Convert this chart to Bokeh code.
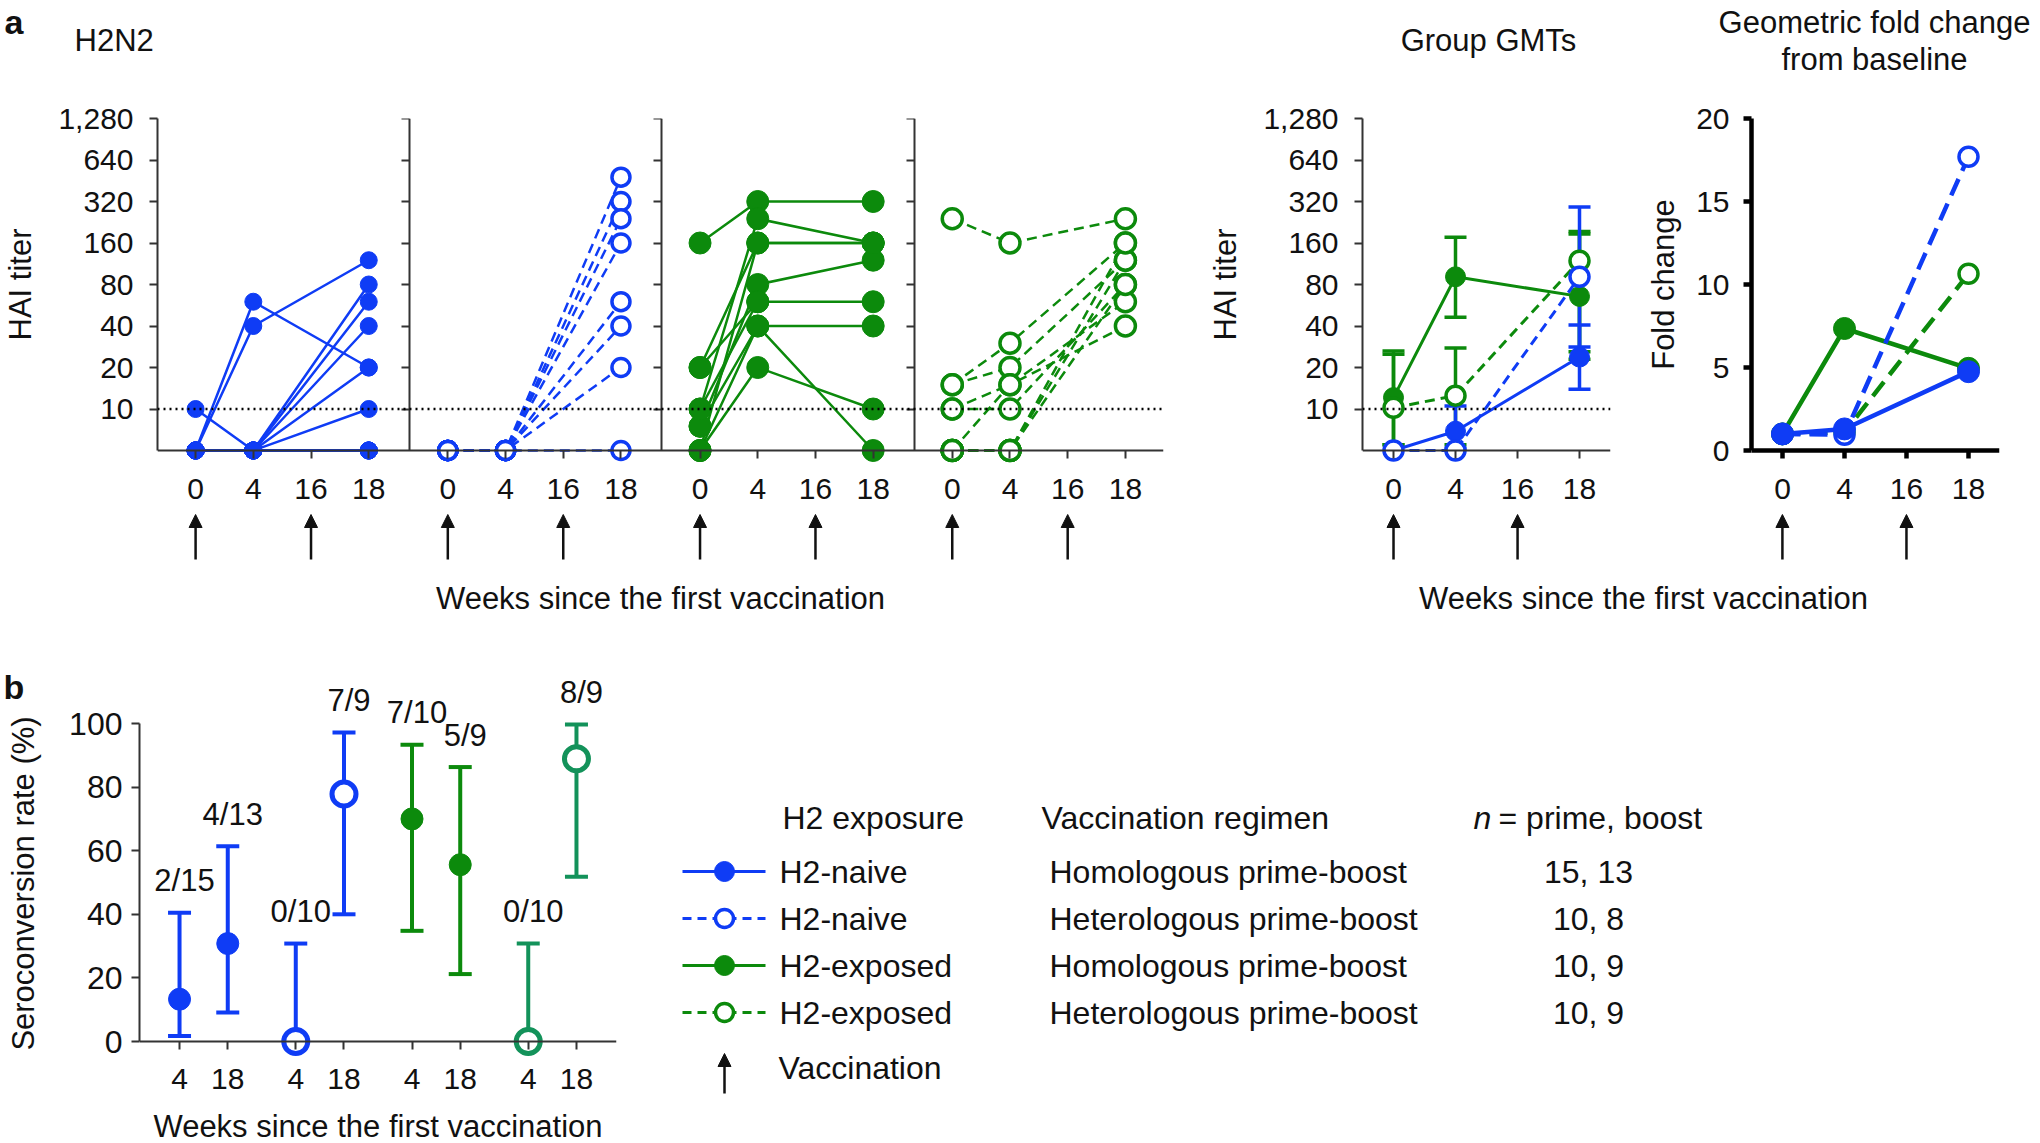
import math
from bokeh.plotting import figure
from bokeh.layouts import row, column
from bokeh.models import (Range1d, LogAxis, LinearAxis, FixedTicker, Span, Arrow,
                          NormalHead, Whisker, TeeHead, ColumnDataSource, NumeralTickFormatter)
from bokeh.core.properties import value
from bokeh.embed import file_html
from bokeh.resources import INLINE

# ======================= data =======================
weeks = [0, 4, 16, 18]
sampled_weeks = [0, 4, 18]
vaccination_weeks = [0, 16]
hai_ticks = [10, 20, 40, 80, 160, 320, 640, 1280]
hai_floor = 5          # titres < 10 drawn on the axis floor
hai_threshold = 10     # dotted line

# panel a: individual HAI titres at weeks 0 / 4 / 18 (None = no sample)
naive_homo_w0 = [5, 5, 10, 5, 5, 5, 5, 5, 5, 5, 5, 5, 5, 5, 5]
naive_homo_w4 = [60, 40, 5, 5, 5, 5, 5, 5, 5, 5, 5, 5, 5, 5, 5]
naive_homo_w18 = [20, 120, 80, 60, 40, 20, 10, 5, 5, 5, 5, 5, 5, None, None]

naive_het_w0 = [5, 5, 5, 5, 5, 5, 5, 5, 5, 5]
naive_het_w4 = [5, 5, 5, 5, 5, 5, 5, 5, 5, 5]
naive_het_w18 = [480, 320, 240, 160, 60, 40, 20, 5, None, None]

exp_homo_w0 = [160, 20, 20, 10, 7.5, 7.5, 5, 5, 5, 10]
exp_homo_w4 = [320, 160, 60, 240, 80, 40, 40, 20, 160, 60]
exp_homo_w18 = [320, 160, 60, 160, 120, 40, 5, 10, 160, None]

exp_het_w0 = [240, 15, 15, 10, 10, 5, 5, 5, 5, 5]
exp_het_w4 = [160, 30, 20, 10, 15, 5, 5, 15, 5, 5]
exp_het_w18 = [240, 160, 120, 80, 60, 120, 80, 40, 160, None]

# group GMTs (weeks 0 / 4 / 18) with 95% CI
gmt_exp_homo = [12.1, 91, 65.6]
gmt_exp_homo_lo = [5.5, 46.3, 23]
gmt_exp_homo_hi = [26.4, 176, 186]
gmt_exp_het = [10.2, 12.5, 119]
gmt_exp_het_lo = [5.5, 5.5, 26]
gmt_exp_het_hi = [25, 27.7, 194]
gmt_naive_homo = [5, 6.9, 23.8]
gmt_naive_homo_lo = [5, 5.2, 13.9]
gmt_naive_homo_hi = [5, 10.5, 40.6]
gmt_naive_het = [5, 5, 91]
gmt_naive_het_lo = [5, 5, 28.2]
gmt_naive_het_hi = [5, 5, 292]

# geometric fold change from baseline (weeks 0 / 4 / 18)
fold_ticks = [0, 5, 10, 15, 20]
fold_exp_het = [1.0, 1.1, 10.65]
fold_exp_homo = [1.0, 7.35, 4.95]
fold_naive_het = [1.0, 0.95, 17.7]
fold_naive_homo = [1.0, 1.3, 4.75]

# panel b: seroconversion rate (%) with 95% CI
pair_weeks = [4, 18]
sero_group = [0, 0, 1, 1, 2, 2, 3, 3]
sero_week = [4, 18, 4, 18, 4, 18, 4, 18]
sero_rate = [13.3, 30.8, 0.0, 77.8, 70.0, 55.6, 0.0, 88.9]
sero_lo = [1.7, 9.1, 0.0, 40.0, 34.8, 21.2, 0.0, 51.8]
sero_hi = [40.5, 61.4, 30.8, 97.2, 93.3, 86.3, 30.8, 99.7]
sero_text = ["2/15", "4/13", "0/10", "7/9", "7/10", "5/9", "0/10", "8/9"]
sero_ticks = [0, 20, 40, 60, 80, 100]

# legend table
legend_exposure = ["H2-naive", "H2-naive", "H2-exposed", "H2-exposed"]
legend_regimen = ["Homologous prime-boost", "Heterologous prime-boost",
                  "Homologous prime-boost", "Heterologous prime-boost"]
legend_n = ["15, 13", "10, 8", "10, 9", "10, 9"]

# ======================= style =======================
FONT = "Liberation Sans"
TXT = "#111111"
AXC = "#333333"
BLUE = "#0f3cf5"
GREEN = "#0c8a0c"
GREEN_B = "#13925a"
DASH = "10 6"
DOT = "2 4"
STEP = 100

# ======================= geometry (page px) =======================
T_H = 90                       # title strip
R1_TOP, R1_BOT = 90, 512       # row of plots
FR_TOP, FLOOR_Y, EXT = 118, 450, 12
FR_BOT = FLOOR_Y + EXT
PXD = (FLOOR_Y - FR_TOP) / 8.0
R1_H = R1_BOT - R1_TOP
BT1, BB1 = FR_TOP - R1_TOP, R1_BOT - FR_BOT
S_TOP, S_BOT = 512, 650        # arrows / axis-title strip
R2_TOP, R2_BOT = 650, 1143
R2_FR_TOP = 660
y_min = hai_floor * 2 ** (-EXT / PXD)
XLAB_STANDOFF = 16


def make_fig(width, height, xr, yr, left=0, right=0, top=0, bottom=0, log=False):
    p = figure(width=width, height=height, x_range=xr, y_range=yr, title=None,
               y_axis_type="log" if log else "linear",
               x_axis_location=None, y_axis_location=None,
               min_border_left=left, min_border_right=right,
               min_border_top=top, min_border_bottom=bottom,
               output_backend="svg", toolbar_location=None)
    p.outline_line_color = None
    p.xgrid.grid_line_color = None
    p.ygrid.grid_line_color = None
    p.background_fill_color = "white"
    p.border_fill_color = "white"
    return p


def style_axis(ax, width=2, color=AXC, tick_out=8, tick_in=0, standoff=16, size="30px"):
    ax.axis_line_color = color
    ax.axis_line_width = width
    ax.major_tick_line_color = color
    ax.major_tick_line_width = width
    ax.major_tick_out = tick_out
    ax.major_tick_in = tick_in
    ax.minor_tick_line_color = None
    ax.major_label_text_font = FONT
    ax.major_label_text_font_size = size
    ax.major_label_text_color = TXT
    ax.major_label_standoff = standoff


def rule_axis(ax, ticks, width=2, color=AXC):
    """axis line + inward ticks only"""
    style_axis(ax, width=width, color=color, tick_out=0, tick_in=8, standoff=0, size="1px")
    ax.major_label_overrides = {t: "" for t in ticks}


def label_axis(ax, standoff):
    """tick labels only"""
    style_axis(ax, tick_out=0, standoff=standoff)
    ax.axis_line_color = None
    ax.major_tick_line_color = None


def txt(p, x, y, texts, size="31px", align="center", baseline="middle", angle=0,
        style="normal"):
    p.text(x=x, y=y, text=texts, text_font=value(FONT), text_font_size=size,
           text_align=align, text_baseline=baseline, angle=angle,
           text_font_style=style, text_color=TXT)


def dots(p, xs, ys, color, filled, size_f, size_o, lw_o=3.5):
    if filled:
        p.scatter(xs, ys, size=size_f, fill_color=color, line_color=color, line_width=1)
    else:
        p.scatter(xs, ys, size=size_o, fill_color="white", line_color=color, line_width=lw_o)


def arrows(p, xs, tip, tail, head=13, lw=2.5):
    src = ColumnDataSource(dict(x=xs, y0=[tail] * len(xs), y1=[tip] * len(xs)))
    p.add_layout(Arrow(source=src, x_start="x", y_start="y0", x_end="x", y_end="y1",
                       line_color=TXT, line_width=lw,
                       end=NormalHead(size=head, fill_color=TXT, line_color=TXT, line_width=1)))


def whiskers(p, xs, lo, hi, color, lw=3.5, cap=22):
    keep = [i for i in range(len(xs)) if hi[i] > lo[i]]
    src = ColumnDataSource(dict(x=[xs[i] for i in keep], lo=[lo[i] for i in keep],
                                hi=[hi[i] for i in keep]))
    p.add_layout(Whisker(source=src, base="x", lower="lo", upper="hi", line_color=color,
                         line_width=lw,
                         upper_head=TeeHead(size=cap, line_color=color, line_width=lw),
                         lower_head=TeeHead(size=cap, line_color=color, line_width=lw),
                         level="underlay"))


def hai_yaxis(p):
    ax = LogAxis(ticker=FixedTicker(ticks=hai_ticks), formatter=NumeralTickFormatter(format="0,0"),
                 bounds=(hai_floor, hai_ticks[-1]))
    style_axis(ax)
    p.add_layout(ax, "left")


# ======================= title strip =======================
pT = make_fig(2040, T_H, Range1d(0, 2040), Range1d(T_H, 0))
txt(pT, [4], [21], ["a"], size="34px", align="left", style="bold")
txt(pT, [74], [40], ["H2N2"], align="left")
txt(pT, [1488], [40], ["Group GMTs"])
txt(pT, [1874, 1874], [22, 59], ["Geometric fold change", "from baseline"])

# ======================= panel a =======================
A_X0, A_W, A_LEFT, A_RIGHT = 40, 1134, 117, 11
A_SUB, A_PAD = 437, 66
xr_a = Range1d(-A_PAD, 3 * A_SUB + 3 * STEP + A_PAD)


def a_pos(k, week):
    return k * A_SUB + weeks.index(week) * STEP


pL1 = make_fig(A_X0, R1_H, Range1d(0, A_X0), Range1d(FR_BOT, FR_TOP), top=BT1, bottom=BB1)
txt(pL1, [20], [284], ["HAI titer"], angle=math.pi / 2)

pA = make_fig(A_W, R1_H, xr_a, Range1d(y_min, hai_ticks[-1]), A_LEFT, A_RIGHT, BT1, BB1, log=True)
hai_yaxis(pA)
for k in range(1, 4):
    ax = LogAxis(ticker=FixedTicker(ticks=hai_ticks), bounds=(hai_floor, hai_ticks[-1]),
                 fixed_location=k * A_SUB - A_PAD)
    style_axis(ax, tick_out=0, tick_in=8, standoff=0, size="1px")
    ax.major_label_overrides = {t: "" for t in hai_ticks}
    pA.add_layout(ax, "right")

a_ticks = [a_pos(k, w) for k in range(4) for w in weeks]
xa_lab = LinearAxis(ticker=FixedTicker(ticks=a_ticks),
                    major_label_overrides={a_pos(k, w): str(w) for k in range(4) for w in weeks})
label_axis(xa_lab, XLAB_STANDOFF)
pA.add_layout(xa_lab, "below")
xa_rule = LinearAxis(ticker=FixedTicker(ticks=a_ticks), fixed_location=hai_floor)
rule_axis(xa_rule, a_ticks)
pA.add_layout(xa_rule, "above")

pA.add_layout(Span(location=hai_threshold, dimension="width", line_color="black",
                   line_width=2.5, line_dash=DOT))

panel_a = [
    (naive_homo_w0, naive_homo_w4, naive_homo_w18, BLUE, True, 17, 18),
    (naive_het_w0, naive_het_w4, naive_het_w18, BLUE, False, 17, 18),
    (exp_homo_w0, exp_homo_w4, exp_homo_w18, GREEN, True, 22, 20),
    (exp_het_w0, exp_het_w4, exp_het_w18, GREEN, False, 22, 20),
]
for k, (w0, w4, w18, color, filled, sf, so) in enumerate(panel_a):
    xs, ys, px, py = [], [], [], []
    for subj in zip(w0, w4, w18):
        lx = [a_pos(k, w) for w, v in zip(sampled_weeks, subj) if v is not None]
        ly = [v for v in subj if v is not None]
        xs.append(lx)
        ys.append(ly)
        px += lx
        py += ly
    pA.multi_line(xs, ys, line_color=color, line_width=2.5,
                  line_dash="solid" if filled else DASH)
    dots(pA, px, py, color, filled, sf, so)

# ======================= GMT panel =======================
L2_X0, L2_X1 = A_X0 + A_W, 1250
G_W, G_LEFT, G_RIGHT = 395, 112, 35
G_PAD = 50
FC_OFF = 627


def g_pos(week):
    return weeks.index(week) * STEP


pL2 = make_fig(L2_X1 - L2_X0, R1_H, Range1d(L2_X0, L2_X1), Range1d(FR_BOT, FR_TOP),
               top=BT1, bottom=BB1)
txt(pL2, [1225], [284], ["HAI titer"], angle=math.pi / 2)

pG = make_fig(G_W, R1_H, Range1d(-G_PAD, g_pos(weeks[-1]) + G_PAD),
              Range1d(y_min, hai_ticks[-1]), G_LEFT, G_RIGHT, BT1, BB1, log=True)
hai_yaxis(pG)
g_ticks = [g_pos(w) for w in weeks]
xg_lab = LinearAxis(ticker=FixedTicker(ticks=g_ticks),
                    major_label_overrides={g_pos(w): str(w) for w in weeks})
label_axis(xg_lab, XLAB_STANDOFF)
pG.add_layout(xg_lab, "below")
xg_rule = LinearAxis(ticker=FixedTicker(ticks=g_ticks), fixed_location=hai_floor)
rule_axis(xg_rule, g_ticks)
pG.add_layout(xg_rule, "above")
pG.add_layout(Span(location=hai_threshold, dimension="width", line_color="black",
                   line_width=2.5, line_dash=DOT))

gx = [g_pos(w) for w in sampled_weeks]
gmt_series = [
    (gmt_exp_homo, gmt_exp_homo_lo, gmt_exp_homo_hi, GREEN, True),
    (gmt_exp_het, gmt_exp_het_lo, gmt_exp_het_hi, GREEN, False),
    (gmt_naive_homo, gmt_naive_homo_lo, gmt_naive_homo_hi, BLUE, True),
    (gmt_naive_het, gmt_naive_het_lo, gmt_naive_het_hi, BLUE, False),
]
for vals, lo, hi, color, filled in gmt_series:
    whiskers(pG, gx, lo, hi, color)
for vals, lo, hi, color, filled in gmt_series:
    pG.line(gx, vals, line_color=color, line_width=3, line_dash="solid" if filled else DASH)
    dots(pG, gx, vals, color, filled, 20, 19)

# ======================= fold-change panel =======================
L3_X0, L3_X1 = L2_X1 + G_W, 1682
F_W, F_LEFT, F_RIGHT = 2040 - L3_X1, 69, 41
FC_PX = (FLOOR_Y - FR_TOP) / 20.0

pL3 = make_fig(L3_X1 - L3_X0, R1_H, Range1d(L3_X0, L3_X1), Range1d(FR_BOT, FR_TOP),
               top=BT1, bottom=BB1)
txt(pL3, [1663], [284], ["Fold change"], angle=math.pi / 2)

pF = make_fig(F_W, R1_H, Range1d(FC_OFF - G_PAD, FC_OFF + g_pos(weeks[-1]) + G_PAD),
              Range1d(-EXT / FC_PX, fold_ticks[-1]), F_LEFT, F_RIGHT, BT1, BB1)
yf = LinearAxis(ticker=FixedTicker(ticks=fold_ticks), bounds=(fold_ticks[0], fold_ticks[-1]))
style_axis(yf, width=4.5, color="black", standoff=14)
pF.add_layout(yf, "left")
f_ticks = [FC_OFF + g_pos(w) for w in weeks]
xf_lab = LinearAxis(ticker=FixedTicker(ticks=f_ticks),
                    major_label_overrides={FC_OFF + g_pos(w): str(w) for w in weeks})
label_axis(xf_lab, XLAB_STANDOFF)
pF.add_layout(xf_lab, "below")
xf_rule = LinearAxis(ticker=FixedTicker(ticks=f_ticks), fixed_location=0)
rule_axis(xf_rule, f_ticks, width=4.5, color="black")
pF.add_layout(xf_rule, "above")

fx = [FC_OFF + g_pos(w) for w in sampled_weeks]
fold_series = [
    (fold_exp_het, GREEN, False),
    (fold_exp_homo, GREEN, True),
    (fold_naive_het, BLUE, False),
    (fold_naive_homo, BLUE, True),
]
for vals, color, filled in fold_series:
    pF.line(fx, vals, line_color=color, line_width=4.5, line_dash="solid" if filled else "18 9")
    dots(pF, fx, vals, color, filled, 22, 19)

# ======================= arrow / axis-title strips =======================
S_H = S_BOT - S_TOP
ARROW_TIP, ARROW_TAIL = 514, 559
pS1 = make_fig(A_X0 + A_W, S_H, xr_a, Range1d(S_BOT, S_TOP), A_X0 + A_LEFT, A_RIGHT)
arrows(pS1, [a_pos(k, w) for k in range(4) for w in vaccination_weeks], ARROW_TIP, ARROW_TAIL)
txt(pS1, [(xr_a.start + xr_a.end) / 2], [598], ["Weeks since the first vaccination"])

S2_W = 2040 - (A_X0 + A_W)
S2_LEFT = G_LEFT + (L2_X1 - L2_X0)
pS2 = make_fig(S2_W, S_H, Range1d(-G_PAD, FC_OFF + g_pos(weeks[-1]) + G_PAD),
               Range1d(S_BOT, S_TOP), S2_LEFT, F_RIGHT)
arrows(pS2, [g_pos(w) for w in vaccination_weeks] + [FC_OFF + g_pos(w) for w in vaccination_weeks],
       ARROW_TIP, ARROW_TAIL)
S2_PX = (S2_W - S2_LEFT - F_RIGHT) / (FC_OFF + g_pos(weeks[-1]) + 2 * G_PAD)
txt(pS2, [(1643 - (L2_X0 + S2_LEFT)) / S2_PX - G_PAD], [598],
    ["Weeks since the first vaccination"])

# ======================= panel b =======================
R2_H = R2_BOT - R2_TOP
BT2 = R2_FR_TOP - R2_TOP
L4_W = 45
B_W, B_LEFT, B_RIGHT = 603, 94, 32
B_PX = (1041 - 723) / 100.0
B_GROUP, B_PAD = 241, 83


def b_pos(g, week):
    return g * B_GROUP + pair_weeks.index(week) * STEP


pL4 = make_fig(L4_W, R2_H, Range1d(0, L4_W), Range1d(R2_BOT, R2_FR_TOP), top=BT2)
txt(pL4, [3], [686], ["b"], size="34px", align="left", style="bold")
txt(pL4, [23], [883], ["Seroconversion rate (%)"], angle=math.pi / 2)

pB = make_fig(B_W, R2_H, Range1d(-B_PAD, b_pos(3, 18) + B_PAD),
              Range1d(-(R2_BOT - 1041) / B_PX, 100 + (723 - R2_FR_TOP) / B_PX),
              B_LEFT, B_RIGHT, BT2, 0)
yb = LinearAxis(ticker=FixedTicker(ticks=sero_ticks), bounds=(sero_ticks[0], sero_ticks[-1]))
style_axis(yb, standoff=9, size="32px")
pB.add_layout(yb, "left")
b_ticks = [b_pos(g, w) for g in range(4) for w in pair_weeks]
xb_rule = LinearAxis(ticker=FixedTicker(ticks=b_ticks), fixed_location=0)
rule_axis(xb_rule, b_ticks)
pB.add_layout(xb_rule, "above")
pB.text(x=b_ticks, y=[0] * len(b_ticks), text=[str(w) for g in range(4) for w in pair_weeks],
        y_offset=37, text_align="center", text_baseline="middle", text_font=value(FONT),
        text_font_size="30px", text_color=TXT)

b_styles = [(BLUE, True), (BLUE, False), (GREEN, True), (GREEN_B, False)]
for g, (color, filled) in enumerate(b_styles):
    idx = [i for i in range(len(sero_group)) if sero_group[i] == g]
    bx = [b_pos(g, sero_week[i]) for i in idx]
    whiskers(pB, bx, [sero_lo[i] for i in idx], [sero_hi[i] for i in idx], color, lw=4, cap=23)
    dots(pB, bx, [sero_rate[i] for i in idx], color, filled, 22, 24, lw_o=5)
    pB.text(x=bx, y=[sero_hi[i] for i in idx], text=[sero_text[i] for i in idx],
            x_offset=5, y_offset=-32, text_align="center", text_baseline="middle",
            text_font=value(FONT), text_font_size="31px", text_color=TXT)
pB.text(x=[(pB.x_range.start + pB.x_range.end) / 2], y=[-(1126 - 1041) / B_PX],
        text=["Weeks since the first vaccination"], text_align="center",
        text_baseline="middle", text_font=value(FONT), text_font_size="31px",
        text_color=TXT)

# ======================= legend table =======================
L_X0 = L4_W + B_W
pL = make_fig(2040 - L_X0, R2_H, Range1d(L_X0, 2040), Range1d(R2_BOT, R2_FR_TOP), top=BT2)
LEG_ROW0, LEG_DY, LEG_HEAD, LEG_VAC = 871, 47, 817, 1067
leg_styles = [(BLUE, True), (BLUE, False), (GREEN, True), (GREEN, False)]
rows_y = [LEG_ROW0 + i * LEG_DY for i in range(len(legend_exposure))]
for y, (color, filled) in zip(rows_y, leg_styles):
    pL.line([682, 765], [y, y], line_color=color, line_width=3,
            line_dash="solid" if filled else "9 6")
    dots(pL, [724], [y], color, filled, 20, 18)

txt(pL, [782], [LEG_HEAD], ["H2 exposure"], size="32px", align="left")
txt(pL, [1041], [LEG_HEAD], ["Vaccination regimen"], size="32px", align="left")
txt(pL, [1473], [LEG_HEAD], ["n"], size="32px", align="left", style="italic")
txt(pL, [1498], [LEG_HEAD], ["= prime, boost"], size="32px", align="left")
txt(pL, [779] * 4, rows_y, legend_exposure, size="32px", align="left")
txt(pL, [1049] * 4, rows_y, legend_regimen, size="32px", align="left")
txt(pL, [1588] * 4, rows_y, legend_n, size="32px")
txt(pL, [778], [LEG_VAC], ["Vaccination"], size="32px", align="left")
arrows(pL, [724], 1053, 1093)

layout = column(pT,
                row(pL1, pA, pL2, pG, pL3, pF),
                row(pS1, pS2),
                row(pL4, pB, pL))
open("out.html", "w").write(file_html(layout, INLINE))
